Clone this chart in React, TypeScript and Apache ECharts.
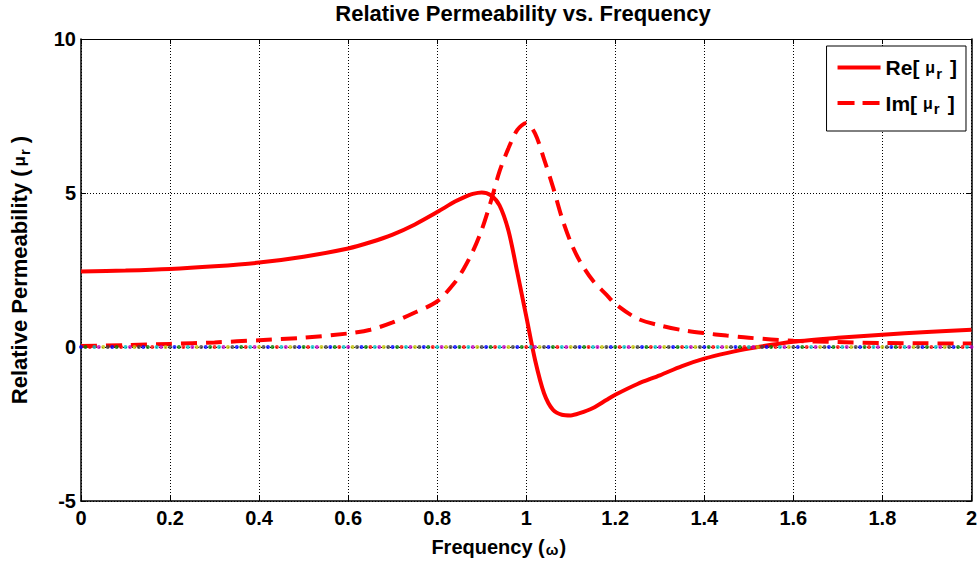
import React, { useEffect, useRef } from "react";
import * as echarts from "echarts";

const freq = [0, 0.1, 0.2, 0.3, 0.4, 0.5, 0.6, 0.65, 0.7, 0.75, 0.8, 0.84, 0.86, 0.88, 0.9, 0.92, 0.94, 0.96, 0.98, 1.0, 1.02, 1.04, 1.06, 1.08, 1.1, 1.12, 1.15, 1.18, 1.2, 1.25, 1.3, 1.35, 1.4, 1.45, 1.5, 1.6, 1.7, 1.8, 1.9, 2.0];
const reMu = [2.45, 2.48, 2.53, 2.62, 2.74, 2.93, 3.2, 3.4, 3.65, 3.98, 4.38, 4.72, 4.86, 4.97, 5.02, 4.93, 4.6, 3.78, 2.42, 1.0, -0.43, -1.5, -2.04, -2.2, -2.22, -2.15, -1.98, -1.72, -1.55, -1.2, -0.92, -0.62, -0.38, -0.2, -0.05, 0.17, 0.3, 0.4, 0.49, 0.56];
const imMu = [0.03, 0.06, 0.1, 0.15, 0.22, 0.3, 0.44, 0.56, 0.8, 1.12, 1.48, 2.1, 2.55, 3.1, 3.8, 4.7, 5.7, 6.45, 7.05, 7.27, 6.93, 6.1, 5.2, 4.2, 3.4, 2.8, 2.15, 1.7, 1.4, 0.92, 0.7, 0.55, 0.45, 0.37, 0.3, 0.2, 0.16, 0.13, 0.12, 0.11];

// zero-valued reference series drawn as coloured dots (MATLAB colour order)
const zeroValue = 0;
const zeroStep = 0.01;
const zeroColors = ["#0000ff", "#008000", "#ff0000", "#00bfbf", "#bf00bf", "#bfbf00", "#404040"];

const xTicks = { min: 0, max: 2, interval: 0.2 };
const yTicks = { min: -5, max: 10, interval: 5 };

const FONT = "'Liberation Sans', Arial, Helvetica, sans-serif";

export default function App() {
  const ref = useRef<HTMLDivElement>(null);
  useEffect(() => {
    if (!ref.current) return;
    const chart = echarts.init(ref.current, undefined, { renderer: "svg" });
    const nZero = Math.round((xTicks.max - xTicks.min) / zeroStep);
    const zeroPts = Array.from({ length: nZero + 1 }, (_, i) => ({
      value: [+(xTicks.min + i * zeroStep).toFixed(2), zeroValue],
      itemStyle: { color: zeroColors[i % zeroColors.length] },
    }));
    const legendRich = {
      t: { fontFamily: FONT, fontWeight: "bold", fontSize: 21, color: "#000" },
      m: { fontFamily: FONT, fontWeight: "bold", fontSize: 16, color: "#000", padding: [0, 0, 0, 6] },
      s: { fontFamily: FONT, fontWeight: "bold", fontSize: 15, color: "#000", padding: [11, 8, 0, 1] },
    };
    const yRich = {
      t: { fontFamily: FONT, fontWeight: "bold", fontSize: 22, color: "#000" },
      m: { fontFamily: FONT, fontWeight: "bold", fontSize: 17, color: "#000", padding: [0, 0, 0, 3] },
      s: { fontFamily: FONT, fontWeight: "bold", fontSize: 15, color: "#000", padding: [11, 6, 0, 1] },
    };
    chart.setOption({
      animation: false,
      backgroundColor: "#fff",
      title: {
        text: "Relative Permeability vs. Frequency",
        left: 518,
        textAlign: "center",
        top: -3,
        textStyle: { fontFamily: FONT, fontWeight: "bold", fontSize: 22, color: "#000" },
      },
      grid: { left: 80, right: 8, top: 39, bottom: 64, containLabel: false },
      legend: {
        orient: "vertical",
        right: 14,
        top: 46,
        padding: [11, 9, 15, 9],
        itemGap: 12,
        itemWidth: 43,
        itemHeight: 14,
        backgroundColor: "#fff",
        borderColor: "#000",
        borderWidth: 1,
        borderRadius: 0,
        itemStyle: { opacity: 0 },
        data: [
          { name: "Re", itemStyle: { opacity: 0 }, lineStyle: { color: "#ff0000", width: 4, type: "solid" } },
          { name: "Im", itemStyle: { opacity: 0 }, lineStyle: { color: "#ff0000", width: 4, type: [17, 8] } },
        ],
        formatter: (name: string) => `{t|${name}[}{m|μ}{s|r}{t|]}`,
        textStyle: { rich: legendRich },
      },
      xAxis: [
        {
          type: "value",
          min: xTicks.min,
          max: xTicks.max,
          interval: xTicks.interval,
          name: "{t|Frequency (}{w|ω}{t|)}",
          nameLocation: "middle",
          nameGap: 36,
          nameTextStyle: {
            padding: [0, 55, 0, 0],
            rich: {
              t: { fontFamily: FONT, fontWeight: "bold", fontSize: 20, color: "#000" },
              w: { fontFamily: FONT, fontWeight: "bold", fontSize: 15, color: "#000", padding: [4, 1, 0, 1] },
            },
          },
          axisLine: { show: true, onZero: false, lineStyle: { color: "#000", width: 1.5 } },
          axisTick: { show: true, inside: true, length: 5, lineStyle: { color: "#000" } },
          axisLabel: { fontFamily: FONT, fontWeight: "bold", fontSize: 20, color: "#000", margin: 7 },
          splitLine: { show: true, lineStyle: { color: "#000", type: [1, 2], width: 1 } },
        },
        {
          type: "value",
          position: "top",
          min: xTicks.min,
          max: xTicks.max,
          interval: xTicks.interval,
          axisLine: { show: true, onZero: false, lineStyle: { color: "#000", width: 1 } },
          axisTick: { show: true, inside: true, length: 5, lineStyle: { color: "#000" } },
          axisLabel: { show: false },
          splitLine: { show: false },
        },
      ],
      yAxis: [
        {
          type: "value",
          min: yTicks.min,
          max: yTicks.max,
          interval: yTicks.interval,
          name: "{t|Relative Permeability (}{m|μ}{s|r}{t|)}",
          nameLocation: "middle",
          nameGap: 49,
          nameTextStyle: { rich: yRich },
          axisLine: { show: true, onZero: false, lineStyle: { color: "#000", width: 1.5 } },
          axisTick: { show: true, inside: true, length: 5, lineStyle: { color: "#000" } },
          axisLabel: { fontFamily: FONT, fontWeight: "bold", fontSize: 20, color: "#000", margin: 5 },
          splitLine: { show: true, lineStyle: { color: "#000", type: [1, 2], width: 1 } },
        },
        {
          type: "value",
          position: "right",
          min: yTicks.min,
          max: yTicks.max,
          interval: yTicks.interval,
          axisLine: { show: true, onZero: false, lineStyle: { color: "#000", width: 1.5 } },
          axisTick: { show: true, inside: true, length: 5, lineStyle: { color: "#000" } },
          axisLabel: { show: false },
          splitLine: { show: false },
        },
      ],
      series: [
        {
          name: "Re",
          type: "line",
          xAxisIndex: 0,
          yAxisIndex: 0,
          data: freq.map((f, i) => [f, reMu[i]]),
          showSymbol: false,
          symbol: "none",
          smooth: 0.3,
          color: "#ff0000",
          lineStyle: { color: "#ff0000", width: 4 },
          z: 3,
        },
        {
          name: "Im",
          type: "line",
          xAxisIndex: 0,
          yAxisIndex: 0,
          data: freq.map((f, i) => [f, imMu[i]]),
          showSymbol: false,
          symbol: "none",
          smooth: 0.3,
          color: "#ff0000",
          lineStyle: { color: "#ff0000", width: 4, type: [16, 9] },
          z: 3,
        },
        {
          name: "zero",
          type: "scatter",
          xAxisIndex: 0,
          yAxisIndex: 0,
          data: zeroPts,
          symbol: "circle",
          symbolSize: 4,
          z: 4,
          silent: true,
        },
      ],
    });
    return () => chart.dispose();
  }, []);
  return (
    <div
      ref={ref}
      style={{ position: "fixed", left: 0, top: 0, width: 980, height: 565, background: "#fff" }}
    />
  );
}
